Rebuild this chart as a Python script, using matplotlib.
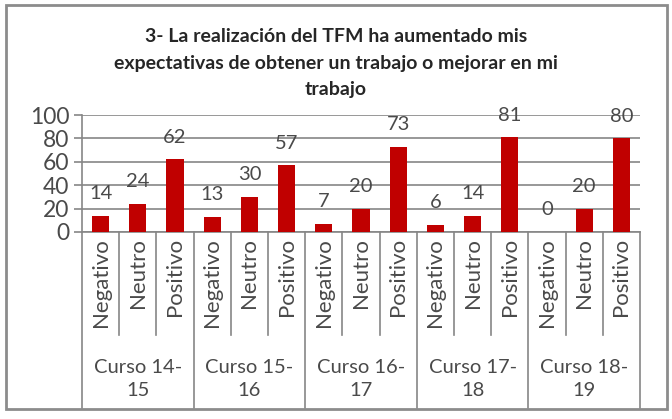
import numpy as np
import matplotlib
matplotlib.use("Agg")
import matplotlib.pyplot as plt
from matplotlib.patches import Rectangle
import matplotlib.transforms as mtransforms

plt.rcParams['font.family'] = ['Lato', 'DejaVu Sans']

# datos
cursos = ['Curso 14-\n15', 'Curso 15-\n16', 'Curso 16-\n17', 'Curso 17-\n18', 'Curso 18-\n19']
respuestas = ['Negativo', 'Neutro', 'Positivo']
negativo = [14, 13, 7, 6, 0]
neutro = [24, 30, 20, 14, 20]
positivo = [62, 57, 73, 81, 80]

valores = []
etiquetas = []
for i in range(len(cursos)):
    valores += [negativo[i], neutro[i], positivo[i]]
    etiquetas += respuestas
x = np.arange(len(valores))

W, H = 672, 419
fig = plt.figure(figsize=(W / 100, H / 100), dpi=100)
ax = fig.add_axes([82 / W, 1 - 232 / H, (640 - 82) / W, (232 - 115) / H])

gris = '#868686'
texto = '#4a4a4a'

ax.bar(x, valores, width=0.46, color='#C00000', zorder=3)
for xi, v in zip(x, valores):
    ax.annotate(str(v), (xi, v), xytext=(0, 16), textcoords='offset points',
                ha='center', va='center', fontsize=14.5, color=texto, zorder=4)

ax.set_xlim(-0.5, len(valores) - 0.5)
ax.set_ylim(0, 100)
ax.set_yticks(np.arange(0, 101, 20))
ax.yaxis.grid(True, color=gris, lw=1.2, zorder=0)
ax.set_xticks([])
ax.tick_params(axis='y', length=6, width=1.2, color=gris, labelsize=16.5,
               labelcolor=texto, pad=3)
for s in ['top', 'right']:
    ax.spines[s].set_visible(False)
ax.spines['left'].set_color(gris)
ax.spines['left'].set_linewidth(1.2)
ax.spines['bottom'].set_color(gris)
ax.spines['bottom'].set_linewidth(1.2)

# ejes de categorias en dos niveles
trans = mtransforms.blended_transform_factory(ax.transData, ax.transAxes)
y_corta = -(335 - 232) / 117
y_larga = -(408 - 232) / 117
for b in np.arange(len(valores) + 1) - 0.5:
    y_fin = y_larga if (b + 0.5) % 3 == 0 else y_corta
    ax.plot([b, b], [0, y_fin], transform=trans, color=gris, lw=1.2, clip_on=False)

for xi, lab in zip(x, etiquetas):
    ax.text(xi, -(238 - 232) / 117, lab, transform=trans, rotation=90,
            ha='center', va='top', fontsize=16, color=texto)

for i, c in enumerate(cursos):
    ax.text(3 * i + 1, -(379 - 232) / 117, c, transform=trans, ha='center',
            va='center', fontsize=14.5, color=texto, linespacing=1.45)

fig.text(0.5, 1 - 63 / H,
         '3- La realización del TFM ha aumentado mis\nexpectativas de obtener un trabajo o mejorar en mi\ntrabajo',
         ha='center', va='center', fontsize=14, fontweight='bold', color='#262626',
         linespacing=1.65)

fig.patches.append(Rectangle((6 / W, 1 - 409 / H), (667 - 6) / W, (409 - 5) / H,
                             transform=fig.transFigure, fill=False,
                             edgecolor='#8c8c8c', lw=2))

fig.savefig('out.png', dpi=100)
